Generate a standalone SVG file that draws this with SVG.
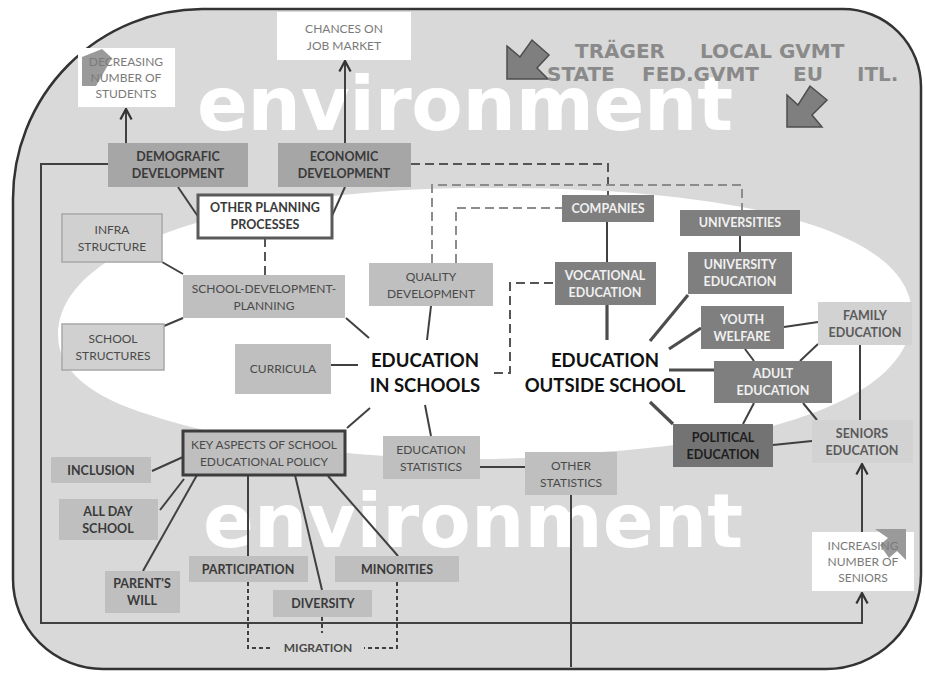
<svg xmlns="http://www.w3.org/2000/svg" width="925" height="675" viewBox="0 0 925 675">
<style>
text{font-family:Lato,"Liberation Sans",sans-serif;text-anchor:middle}
.lb{font-weight:700;font-size:12.5px;fill:#3a3a3a}
.lr{font-weight:400;font-size:12px;fill:#4a4a4a}
.lw{font-weight:700;font-size:12.5px;fill:#f0f0f0}
.lg{font-weight:400;font-size:12px;fill:#7a7a7a}
.lf{font-weight:700;font-size:12.5px;fill:#5a5a5a}
.big{font-weight:700;font-size:18.5px;fill:#111}
.env{font-family:"DejaVu Sans",sans-serif;font-weight:700;font-size:75px;fill:#fff;text-anchor:start}
.leg{font-family:"DejaVu Sans",sans-serif;font-weight:700;font-size:20px;fill:#8a8a8a;text-anchor:start}
.b1{fill:#a6a6a6}
.b2{fill:#bfbfbf}
.b3{fill:#7f7f7f}
.b4{fill:#d2d2d2}
.bw{fill:#fff}
.bs{fill:#d0d0d0;stroke:#a8a8a8;stroke-width:1.5}
.bk{fill:#bfbfbf;stroke:#3d3d3d;stroke-width:3}
.bo{fill:#fff;stroke:#5a5a5a;stroke-width:3}
.c{fill:none;stroke:#404040;stroke-width:2}
.ct{fill:none;stroke:#4d4d4d;stroke-width:3.2}
.d{fill:none;stroke:#555;stroke-width:2;stroke-dasharray:9 5}
.dl{fill:none;stroke:#8c8c8c;stroke-width:2;stroke-dasharray:9 5}
.dm{fill:none;stroke:#404040;stroke-width:2;stroke-dasharray:4 3}
.ar{fill:#7f7f7f;stroke:#4d4d4d;stroke-width:1.5}
</style>
<defs>
<marker id="ah" markerUnits="userSpaceOnUse" markerWidth="14" markerHeight="14" viewBox="0 0 10 10" refX="9" refY="5" orient="auto">
<path d="M1.5,1 L9,5 L1.5,9" fill="none" stroke="#333" stroke-width="1.6"/>
</marker>
</defs>
<rect width="925" height="675" fill="#fff"/>
<path d="M202,9 H843 A78,78 0 0 1 921,87 V574 A95,95 0 0 1 826,669 H103 A90,90 0 0 1 13,579 V199 A190,190 0 0 1 202,9 Z" fill="#d9d9d9" stroke="#333" stroke-width="2.5"/>
<path d="M58,335 C58,240 260,188 480,188 C720,186 912,225 912,315 C912,395 780,440 600,452 C450,470 260,452 150,415 C90,397 58,370 58,335 Z" fill="#fff"/>
<text class="env" x="197" y="130" textLength="536">environment</text>
<text class="env" x="203" y="547" textLength="540">environment</text>
<g id="legend">
<polygon class="ar" points="507,46 520,57 532,40 549,55 537,68 548,79 507,79"/>
<polygon class="ar" points="787,95 798,105 810,86 827,100 812,115 822,127 787,127"/>
<text class="leg" x="575" y="58">TRÄGER</text>
<text class="leg" x="700" y="58">LOCAL GVMT</text>
<text class="leg" x="547" y="81">STATE</text>
<text class="leg" x="642" y="81">FED.GVMT</text>
<text class="leg" x="793" y="81">EU</text>
<text class="leg" x="857" y="81">ITL.</text>
</g>
<g id="connectors">
<path class="c" d="M108,164 H41 V623 H862 V593" marker-end="url(#ah)"/>
<path class="c" d="M126,143 V109" marker-end="url(#ah)"/>
<path class="c" d="M345,143 V61" marker-end="url(#ah)"/>
<path class="c" d="M862,532 V464" marker-end="url(#ah)"/>
<path class="c" d="M178,187 L199,218"/>
<path class="c" d="M345,187 L331,218"/>
<path class="c" d="M162,262 L183,274"/>
<path class="c" d="M164,326 L183,318"/>
<path class="c" d="M346,318 L369,338"/>
<path class="c" d="M331,365 H358"/>
<path class="c" d="M431,306 L427,340"/>
<path class="c" d="M347,428 L370,408"/>
<path class="c" d="M425,405 L431,436"/>
<path class="c" d="M480,467 H525"/>
<path class="c" d="M571,495 V667"/>
<path class="c" d="M607,222 V262"/>
<path class="ct" d="M607,305 V340"/>
<path class="c" d="M740,236 V252"/>
<path class="ct" d="M650,341 L688,295"/>
<path class="ct" d="M669,349 L701,328"/>
<path class="ct" d="M669,370 H714"/>
<path class="ct" d="M650,402 L673,424"/>
<path class="c" d="M784,327 L818,322"/>
<path class="c" d="M745,349 L754,361"/>
<path class="c" d="M818,344 L800,361"/>
<path class="c" d="M754,403 L743,424"/>
<path class="c" d="M803,403 L817,420"/>
<path class="c" d="M860,345 V420"/>
<path class="c" d="M773,445 L812,441"/>
<path class="c" d="M152,471 L183,457"/>
<path class="c" d="M160,510 L184,479"/>
<path class="c" d="M143,571 L197,475"/>
<path class="c" d="M248,475 V556"/>
<path class="c" d="M295,475 L322,590"/>
<path class="c" d="M328,476 L398,556"/>
<path class="d" d="M411,164 H608 V195"/>
<path class="dl" d="M432,263 V185 H742 V210"/>
<path class="dl" d="M456,263 V208 H562"/>
<path class="d" d="M494,373 H510 V283 H555"/>
<path class="d" d="M265,238 V275"/>
<path class="dm" d="M248,582 V648 H272"/>
<path class="dm" d="M322,617 V633"/>
<path class="dm" d="M397,582 V648 H364"/>
</g>
<g id="decreasing"><rect class="bw" x="78" y="48" width="97" height="59"/><polygon points="82,57 102,49 112,58 104,72 96,86 82,86" fill="#9a9a9a"/><text class="lg" x="126"><tspan x="126" y="66">DECREASING</tspan><tspan x="126" y="82">NUMBER OF</tspan><tspan x="126" y="98">STUDENTS</tspan></text></g>
<g id="chances"><rect class="bw" x="277" y="12" width="134" height="48"/><text class="lg"><tspan x="344" y="33">CHANCES ON</tspan><tspan x="344" y="50">JOB MARKET</tspan></text></g>
<g id="demografic"><rect class="b1" x="108" y="143" width="140" height="44"/><text class="lb"><tspan x="178" y="161">DEMOGRAFIC</tspan><tspan x="178" y="178">DEVELOPMENT</tspan></text></g>
<g id="economic"><rect class="b1" x="278" y="143" width="133" height="44"/><text class="lb"><tspan x="344" y="161">ECONOMIC</tspan><tspan x="344" y="178">DEVELOPMENT</tspan></text></g>
<g id="otherplanning"><rect class="bo" x="198" y="195" width="134" height="43"/><text class="lb"><tspan x="265" y="212">OTHER PLANNING</tspan><tspan x="265" y="229">PROCESSES</tspan></text></g>
<g id="infra"><rect class="bs" x="62" y="214" width="100" height="48"/><text class="lr"><tspan x="112" y="234">INFRA</tspan><tspan x="112" y="251">STRUCTURE</tspan></text></g>
<g id="sdp"><rect class="b2" x="183" y="275" width="162" height="43"/><text class="lr"><tspan x="264" y="293">SCHOOL-DEVELOPMENT-</tspan><tspan x="264" y="310">PLANNING</tspan></text></g>
<g id="schoolstructures"><rect class="bs" x="62" y="324" width="102" height="46"/><text class="lr"><tspan x="113" y="343">SCHOOL</tspan><tspan x="113" y="360">STRUCTURES</tspan></text></g>
<g id="curricula"><rect class="b2" x="235" y="344" width="96" height="50"/><text class="lr" x="283" y="373">CURRICULA</text></g>
<g id="quality"><rect class="b2" x="369" y="263" width="124" height="43"/><text class="lr"><tspan x="431" y="281">QUALITY</tspan><tspan x="431" y="298">DEVELOPMENT</tspan></text></g>
<g id="eis"><text class="big"><tspan x="425" y="367">EDUCATION</tspan><tspan x="425" y="392">IN SCHOOLS</tspan></text></g>
<g id="eos"><text class="big"><tspan x="605" y="367">EDUCATION</tspan><tspan x="605" y="392">OUTSIDE SCHOOL</tspan></text></g>
<g id="companies"><rect class="b3" x="562" y="195" width="92" height="27"/><text class="lw" x="608" y="213">COMPANIES</text></g>
<g id="vocational"><rect class="b3" x="555" y="262" width="101" height="43"/><text class="lw"><tspan x="605" y="280">VOCATIONAL</tspan><tspan x="605" y="297">EDUCATION</tspan></text></g>
<g id="universities"><rect class="b3" x="680" y="210" width="120" height="26"/><text class="lw" x="740" y="227">UNIVERSITIES</text></g>
<g id="univedu"><rect class="b3" x="688" y="252" width="104" height="42"/><text class="lw"><tspan x="740" y="269">UNIVERSITY</tspan><tspan x="740" y="286">EDUCATION</tspan></text></g>
<g id="youth"><rect class="b3" x="701" y="306" width="83" height="43"/><text class="lw"><tspan x="742" y="324">YOUTH</tspan><tspan x="742" y="341">WELFARE</tspan></text></g>
<g id="family"><rect class="b4" x="818" y="302" width="94" height="43"/><text class="lf"><tspan x="865" y="320">FAMILY</tspan><tspan x="865" y="337">EDUCATION</tspan></text></g>
<g id="adult"><rect class="b3" x="714" y="361" width="118" height="42"/><text class="lw"><tspan x="773" y="378">ADULT</tspan><tspan x="773" y="395">EDUCATION</tspan></text></g>
<g id="political"><rect fill="#737373" x="673" y="424" width="100" height="43"/><text class="lb" style="fill:#1e1e1e"><tspan x="723" y="442">POLITICAL</tspan><tspan x="723" y="459">EDUCATION</tspan></text></g>
<g id="seniors"><rect class="b4" x="812" y="420" width="101" height="43"/><text class="lf"><tspan x="862" y="438">SENIORS</tspan><tspan x="862" y="455">EDUCATION</tspan></text></g>
<g id="increasing"><rect class="bw" x="812" y="532" width="102" height="59"/><polygon points="875,529 906,529 906,560 897,551 889,558 880,545 888,538" fill="#9a9a9a"/><text class="lg"><tspan x="863" y="550">INCREASING</tspan><tspan x="863" y="566">NUMBER OF</tspan><tspan x="863" y="582">SENIORS</tspan></text></g>
<g id="keyaspects"><rect class="bk" x="183" y="431" width="162" height="44"/><text class="lr"><tspan x="264" y="449">KEY ASPECTS OF SCHOOL</tspan><tspan x="264" y="466">EDUCATIONAL POLICY</tspan></text></g>
<g id="edustats"><rect class="b2" x="383" y="436" width="97" height="43"/><text class="lr"><tspan x="431" y="454">EDUCATION</tspan><tspan x="431" y="471">STATISTICS</tspan></text></g>
<g id="otherstats"><rect class="b2" x="525" y="452" width="92" height="43"/><text class="lr"><tspan x="571" y="470">OTHER</tspan><tspan x="571" y="487">STATISTICS</tspan></text></g>
<g id="inclusion"><rect class="b2" x="51" y="457" width="100" height="26"/><text class="lb" x="101" y="475">INCLUSION</text></g>
<g id="allday"><rect class="b2" x="59" y="499" width="99" height="41"/><text class="lb"><tspan x="108" y="516">ALL DAY</tspan><tspan x="108" y="533">SCHOOL</tspan></text></g>
<g id="parents"><rect class="b2" x="105" y="571" width="75" height="42"/><text class="lb"><tspan x="142" y="588">PARENT'S</tspan><tspan x="142" y="605">WILL</tspan></text></g>
<g id="participation"><rect class="b2" x="189" y="556" width="119" height="26"/><text class="lb" x="248" y="574">PARTICIPATION</text></g>
<g id="diversity"><rect class="b2" x="273" y="590" width="99" height="27"/><text class="lb" x="323" y="608">DIVERSITY</text></g>
<g id="minorities"><rect class="b2" x="335" y="556" width="124" height="26"/><text class="lb" x="397" y="574">MINORITIES</text></g>
<g id="migration"><text class="lb" style="font-size:12px;fill:#4a4a4a" x="318" y="652">MIGRATION</text></g>
</svg>
